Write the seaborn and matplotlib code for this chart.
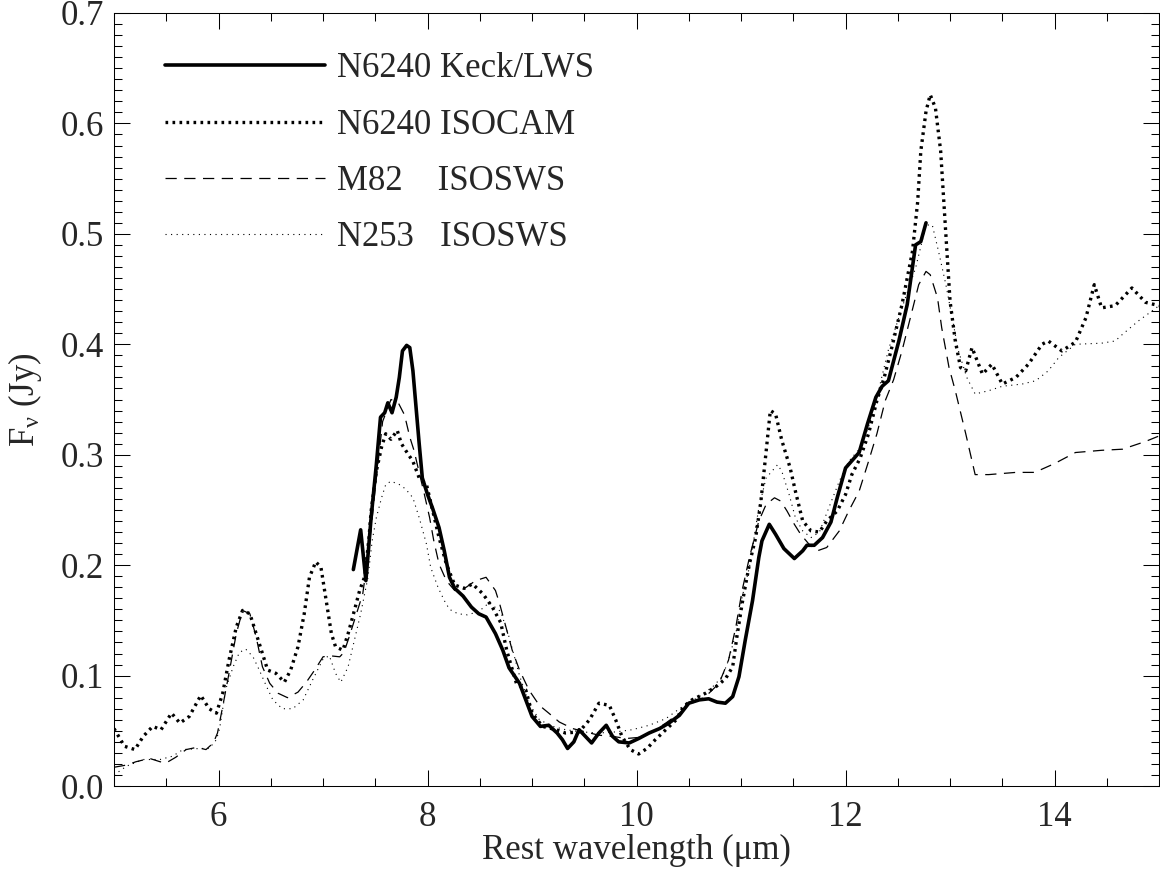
"""
Mid-IR spectra of NGC 6240 compared with M82 and NGC 253 (PAH features).
Values read off the published figure.
"""

import matplotlib
matplotlib.use("Agg")
import matplotlib.pyplot as plt
from matplotlib.ticker import MultipleLocator, FormatStrFormatter
import seaborn as sns
import pandas as pd

# N6240 Keck/LWS
keck_wave = [7.29, 7.36, 7.41, 7.46, 7.51, 7.55, 7.59, 7.62, 7.66, 7.70, 7.73, 7.76,
             7.80, 7.83, 7.86, 7.89, 7.92, 7.95, 8.00, 8.05, 8.11, 8.16, 8.21, 8.26,
             8.34, 8.42, 8.49, 8.56, 8.65, 8.72, 8.78, 8.88, 8.94, 9.00, 9.08, 9.16,
             9.24, 9.29, 9.34, 9.40, 9.45, 9.51, 9.57, 9.64, 9.71, 9.77, 9.83, 9.93,
             10.02, 10.12, 10.22, 10.31, 10.41, 10.50, 10.60, 10.69, 10.77, 10.85,
             10.92, 10.98, 11.04, 11.11, 11.17, 11.20, 11.27, 11.33, 11.41, 11.51,
             11.59, 11.63, 11.70, 11.78, 11.86, 11.92, 12.00, 12.13, 12.21, 12.29,
             12.35, 12.41, 12.51, 12.59, 12.67, 12.72, 12.77]
keck_flux = [0.196, 0.232, 0.186, 0.243, 0.291, 0.334, 0.338, 0.347, 0.338, 0.352,
             0.370, 0.394, 0.399, 0.397, 0.376, 0.343, 0.310, 0.279, 0.264, 0.251,
             0.234, 0.213, 0.189, 0.179, 0.172, 0.162, 0.156, 0.153, 0.138, 0.123,
             0.107, 0.093, 0.078, 0.063, 0.054, 0.055, 0.048, 0.042, 0.034, 0.040,
             0.051, 0.045, 0.039, 0.048, 0.055, 0.045, 0.040, 0.039, 0.043, 0.048,
             0.052, 0.057, 0.064, 0.075, 0.078, 0.079, 0.076, 0.075, 0.081, 0.099,
             0.132, 0.168, 0.207, 0.222, 0.237, 0.228, 0.215, 0.206, 0.213, 0.218,
             0.218, 0.225, 0.239, 0.261, 0.288, 0.302, 0.328, 0.352, 0.362, 0.367,
             0.403, 0.436, 0.490, 0.493, 0.510]

# N6240 ISOCAM
isocam_wave = [5.00, 5.10, 5.20, 5.28, 5.37, 5.45, 5.55, 5.63, 5.72, 5.83, 5.91, 5.98,
               6.04, 6.10, 6.17, 6.23, 6.30, 6.36, 6.42, 6.47, 6.55, 6.63, 6.69, 6.76,
               6.82, 6.87, 6.93, 6.98, 7.03, 7.08, 7.12, 7.19, 7.24, 7.30, 7.35, 7.40,
               7.44, 7.46, 7.51, 7.56, 7.60, 7.65, 7.71, 7.75, 7.79, 7.86, 7.92, 7.99,
               8.05, 8.11, 8.18, 8.26, 8.35, 8.43, 8.53, 8.62, 8.70, 8.76, 8.85, 8.94,
               9.00, 9.10, 9.23, 9.32, 9.45, 9.55, 9.64, 9.74, 9.80, 9.86, 9.94, 10.02,
               10.10, 10.18, 10.28, 10.38, 10.45, 10.53, 10.66, 10.76, 10.85, 10.92,
               10.96, 11.01, 11.08, 11.14, 11.19, 11.24, 11.28, 11.33, 11.39, 11.47,
               11.52, 11.59, 11.67, 11.75, 11.82, 11.92, 12.00, 12.06, 12.14, 12.22,
               12.30, 12.37, 12.45, 12.54, 12.64, 12.69, 12.72, 12.77, 12.81, 12.86,
               12.91, 12.94, 12.97, 13.00, 13.05, 13.10, 13.15, 13.21, 13.26, 13.31,
               13.40, 13.50, 13.63, 13.75, 13.88, 13.94, 14.07, 14.20, 14.30, 14.38,
               14.45, 14.58, 14.74, 14.87, 15.00]
isocam_flux = [0.052, 0.036, 0.033, 0.045, 0.054, 0.051, 0.066, 0.057, 0.063, 0.082,
               0.070, 0.066, 0.084, 0.114, 0.144, 0.159, 0.156, 0.138, 0.120, 0.105,
               0.102, 0.094, 0.105, 0.126, 0.156, 0.189, 0.203, 0.198, 0.168, 0.138,
               0.126, 0.123, 0.138, 0.159, 0.177, 0.190, 0.225, 0.249, 0.285, 0.307,
               0.319, 0.314, 0.322, 0.310, 0.304, 0.294, 0.279, 0.273, 0.249, 0.225,
               0.201, 0.182, 0.179, 0.183, 0.174, 0.162, 0.148, 0.122, 0.093, 0.087,
               0.066, 0.054, 0.051, 0.048, 0.049, 0.060, 0.075, 0.073, 0.060, 0.045,
               0.033, 0.029, 0.034, 0.042, 0.051, 0.060, 0.072, 0.078, 0.084, 0.090,
               0.097, 0.108, 0.135, 0.165, 0.201, 0.225, 0.258, 0.303, 0.340, 0.337,
               0.313, 0.288, 0.267, 0.240, 0.231, 0.230, 0.240, 0.249, 0.264, 0.282,
               0.297, 0.319, 0.349, 0.370, 0.400, 0.436, 0.484, 0.529, 0.575, 0.611,
               0.626, 0.614, 0.575, 0.529, 0.484, 0.439, 0.403, 0.379, 0.376, 0.397,
               0.385, 0.373, 0.382, 0.364, 0.370, 0.382, 0.400, 0.403, 0.394, 0.402,
               0.424, 0.454, 0.433, 0.435, 0.451, 0.438, 0.435]

# M82 ISOSWS
m82_wave = [5.00, 5.12, 5.21, 5.34, 5.44, 5.50, 5.59, 5.69, 5.79, 5.88, 5.95, 5.99,
            6.04, 6.10, 6.17, 6.23, 6.30, 6.36, 6.42, 6.49, 6.57, 6.66, 6.76, 6.84,
            6.92, 7.00, 7.06, 7.16, 7.20, 7.25, 7.32, 7.38, 7.44, 7.50, 7.57, 7.65,
            7.72, 7.78, 7.83, 7.87, 7.97, 8.02, 8.06, 8.11, 8.18, 8.26, 8.37, 8.46,
            8.56, 8.65, 8.69, 8.75, 8.81, 8.88, 8.97, 9.07, 9.16, 9.26, 9.39, 9.51,
            9.64, 9.77, 9.90, 10.02, 10.15, 10.28, 10.41, 10.53, 10.66, 10.79, 10.88,
            10.95, 11.01, 11.08, 11.17, 11.24, 11.32, 11.38, 11.44, 11.51, 11.57,
            11.65, 11.73, 11.82, 11.94, 12.03, 12.13, 12.22, 12.30, 12.38, 12.46,
            12.54, 12.62, 12.70, 12.77, 12.81, 12.88, 12.92, 12.99, 13.05, 13.15,
            13.24, 13.37, 13.63, 13.81, 14.00, 14.20, 14.45, 14.65, 14.87, 15.00]
m82_flux = [0.017, 0.019, 0.022, 0.025, 0.022, 0.021, 0.026, 0.033, 0.035, 0.033,
            0.039, 0.048, 0.072, 0.102, 0.138, 0.159, 0.156, 0.135, 0.108, 0.093,
            0.084, 0.080, 0.085, 0.094, 0.105, 0.117, 0.118, 0.117, 0.121, 0.135,
            0.156, 0.174, 0.215, 0.270, 0.330, 0.350, 0.347, 0.336, 0.316, 0.304,
            0.264, 0.243, 0.222, 0.201, 0.186, 0.177, 0.180, 0.186, 0.189, 0.177,
            0.165, 0.144, 0.123, 0.105, 0.087, 0.073, 0.066, 0.058, 0.052, 0.049,
            0.046, 0.045, 0.043, 0.044, 0.049, 0.057, 0.066, 0.075, 0.081, 0.093,
            0.114, 0.144, 0.177, 0.207, 0.240, 0.255, 0.261, 0.258, 0.249, 0.237,
            0.228, 0.219, 0.213, 0.216, 0.231, 0.249, 0.267, 0.294, 0.319, 0.349,
            0.368, 0.394, 0.424, 0.454, 0.466, 0.463, 0.442, 0.415, 0.379, 0.358,
            0.319, 0.282, 0.282, 0.284, 0.284, 0.292, 0.302, 0.304, 0.305, 0.312,
            0.317]

# N253 ISOSWS
n253_wave = [5.00, 5.12, 5.28, 5.44, 5.56, 5.66, 5.82, 5.91, 5.98, 6.01, 6.07, 6.14,
             6.20, 6.26, 6.33, 6.39, 6.46, 6.52, 6.61, 6.71, 6.81, 6.90, 7.00, 7.06,
             7.12, 7.17, 7.24, 7.30, 7.36, 7.43, 7.47, 7.51, 7.56, 7.60, 7.65, 7.73,
             7.79, 7.86, 7.92, 7.99, 8.03, 8.10, 8.16, 8.21, 8.29, 8.38, 8.49, 8.59,
             8.70, 8.78, 8.88, 8.97, 9.07, 9.20, 9.32, 9.48, 9.64, 9.80, 9.96, 10.12,
             10.28, 10.44, 10.60, 10.73, 10.82, 10.88, 10.95, 11.01, 11.08, 11.17,
             11.24, 11.35, 11.39, 11.46, 11.52, 11.59, 11.67, 11.75, 11.84, 11.94,
             12.03, 12.13, 12.22, 12.30, 12.41, 12.54, 12.67, 12.77, 12.83, 12.89,
             12.96, 13.02, 13.08, 13.16, 13.24, 13.37, 13.50, 13.69, 13.82, 13.94,
             14.04, 14.20, 14.45, 14.58, 14.65, 14.80, 14.93, 15.00]
n253_flux = [0.010, 0.018, 0.024, 0.024, 0.027, 0.033, 0.034, 0.034, 0.042, 0.052,
             0.088, 0.108, 0.121, 0.124, 0.117, 0.105, 0.090, 0.078, 0.070, 0.070,
             0.078, 0.096, 0.115, 0.118, 0.102, 0.094, 0.108, 0.132, 0.156, 0.189,
             0.222, 0.243, 0.261, 0.273, 0.276, 0.273, 0.269, 0.261, 0.243, 0.219,
             0.198, 0.180, 0.168, 0.160, 0.156, 0.155, 0.158, 0.166, 0.158, 0.135,
             0.100, 0.075, 0.060, 0.054, 0.051, 0.049, 0.048, 0.049, 0.051, 0.055,
             0.061, 0.072, 0.081, 0.090, 0.099, 0.114, 0.138, 0.171, 0.198, 0.252,
             0.279, 0.291, 0.285, 0.264, 0.243, 0.231, 0.225, 0.230, 0.252, 0.276,
             0.294, 0.305, 0.325, 0.352, 0.395, 0.433, 0.469, 0.508, 0.508, 0.484,
             0.454, 0.424, 0.394, 0.370, 0.355, 0.358, 0.362, 0.364, 0.367, 0.376,
             0.388, 0.400, 0.401, 0.403, 0.409, 0.421, 0.430, 0.435]

labels = ["N6240 Keck/LWS", "N6240 ISOCAM", "M82    ISOSWS", "N253   ISOSWS"]

sns.set_theme(style="ticks")
plt.rcParams["font.family"] = ["Liberation Serif", "DejaVu Serif"]
plt.rcParams["mathtext.fontset"] = "custom"
plt.rcParams["mathtext.rm"] = "Liberation Serif"
plt.rcParams["mathtext.it"] = "Liberation Serif:italic"

FS = 25
plt.rcParams["font.size"] = FS

fig = plt.figure(figsize=(11.6, 8.72), dpi=100)
ax = fig.add_axes([0.0983, 0.0986, 0.9009, 0.8865])

series = [
    (keck_wave, keck_flux, dict(lw=2.6, linestyle="-")),
    (isocam_wave, isocam_flux, dict(lw=2.4, linestyle=(0, (0.8, 1.3)))),
    (m82_wave, m82_flux, dict(lw=0.9, linestyle=(0, (9, 6)))),
    (n253_wave, n253_flux, dict(lw=0.8, linestyle=(0, (1, 4)))),
]
for (wave, flux, style), name in zip(series, labels):
    df = pd.DataFrame({"wave": wave, "flux": flux})
    sns.lineplot(data=df, x="wave", y="flux", ax=ax, color="black",
                 sort=False, estimator=None, label=name, **style)

ax.set_xlim(5, 15)
ax.set_ylim(0, 0.7)

ax.xaxis.set_major_locator(MultipleLocator(2))
ax.xaxis.set_minor_locator(MultipleLocator(0.5))
ax.yaxis.set_major_locator(MultipleLocator(0.1))
ax.yaxis.set_minor_locator(MultipleLocator(0.01))
ax.xaxis.set_major_formatter(FormatStrFormatter("%d"))
ax.yaxis.set_major_formatter(FormatStrFormatter("%.1f"))

ax.tick_params(which="both", direction="in", top=True, right=True,
               width=0.75, color="black", labelsize=FS)
ax.tick_params(which="major", length=11.5)
ax.tick_params(which="minor", length=6)
ax.tick_params(axis="x", which="major", pad=11)
ax.tick_params(axis="y", which="major", pad=7)

for spine in ax.spines.values():
    spine.set_linewidth(0.75)
    spine.set_color("black")

ax.set_xlabel("Rest wavelength (\u03bcm)", fontsize=FS, labelpad=0)
ax.set_ylabel(r"F$_\mathrm{\nu}$ (Jy)", fontsize=FS, labelpad=12)

ax.legend(loc="upper left", bbox_to_anchor=(0.0488, 0.949), frameon=False,
          fontsize=FS, handlelength=4.6, handletextpad=0.35, labelspacing=0.67,
          borderpad=0, borderaxespad=0)

fig.savefig("out.png", dpi=100)
plt.close(fig)
